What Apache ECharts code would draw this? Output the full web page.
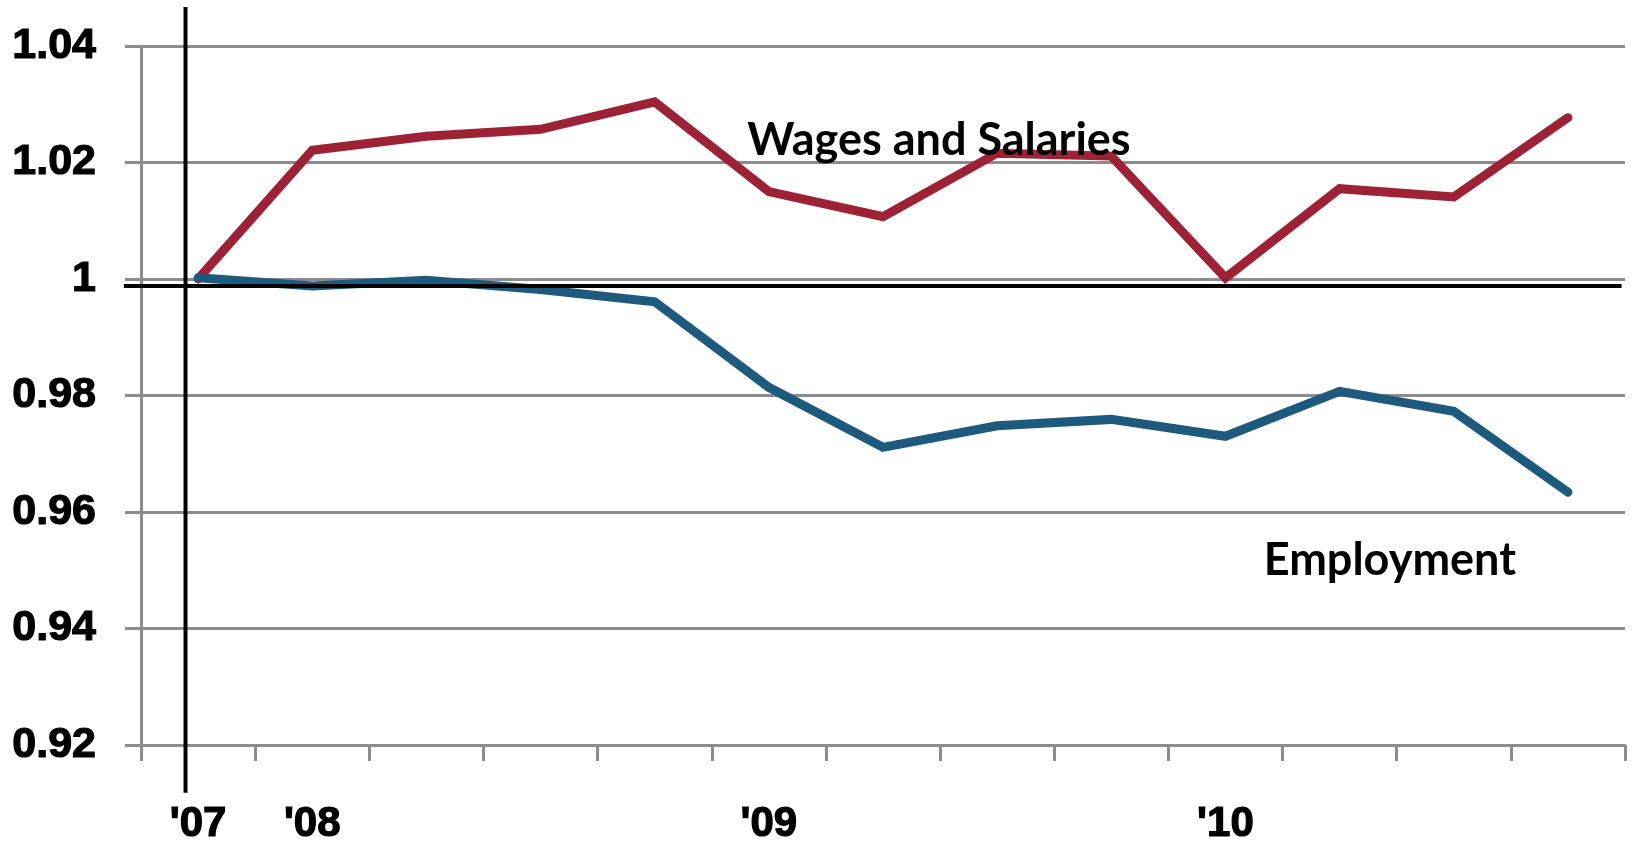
<!DOCTYPE html>
<html>
<head>
<meta charset="utf-8">
<script src="https://cdn.jsdelivr.net/npm/echarts@6/dist/echarts.min.js"></script>
<style>
html,body{margin:0;padding:0;background:#fff;}
#chart{width:1633px;height:851px;}
</style>
</head>
<body>
<div id="chart"></div>
<script>
// Quarters, 2007 Q4 through 2010 Q4
var categories = ["2007Q4","2008Q1","2008Q2","2008Q3","2008Q4","2009Q1","2009Q2","2009Q3","2009Q4","2010Q1","2010Q2","2010Q3","2010Q4"];
var xTickLabels = ["'07","'08","","","","'09","","","","'10","","",""];
var wagesAndSalaries = [1.0000, 1.0221, 1.0245, 1.0257, 1.0304, 1.0150, 1.0107, 1.0216, 1.0211, 1.0002, 1.0155, 1.0141, 1.0277];
var employment = [1.0002, 0.9988, 0.9998, 0.9982, 0.9961, 0.9814, 0.9711, 0.9748, 0.9759, 0.9730, 0.9807, 0.9773, 0.9634];
var yMin = 0.92, yMax = 1.04, yStep = 0.02;

var RED = '#9e2236', BLUE = '#1d5a7e', GRAY = '#8c8c8c';
var chart = echarts.init(document.getElementById('chart'));
var labelFont = 'Liberation Sans';
chart.setOption({
  animation: false,
  backgroundColor: '#fff',
  grid: {left: 141, right: 8, top: 46, bottom: 106, containLabel: false},
  xAxis: {
    type: 'category',
    data: categories,
    boundaryGap: true,
    axisLine: {lineStyle: {color: GRAY, width: 3}},
    axisTick: {show: true, length: 16, lineStyle: {color: GRAY, width: 3}, alignWithLabel: false, interval: 0},
    axisLabel: {
      interval: 0, margin: 58, color: '#000', fontFamily: labelFont, fontWeight: 'bold', fontSize: 42,
      textBorderColor: '#000', textBorderWidth: 1.2,
      formatter: function (v, i) { return xTickLabels[i]; }
    },
    splitLine: {show: false}
  },
  yAxis: {
    type: 'value',
    min: yMin, max: yMax, interval: yStep,
    axisLine: {show: true, lineStyle: {color: GRAY, width: 3}},
    axisTick: {show: true, length: 16, lineStyle: {color: GRAY, width: 3}},
    axisLabel: {
      margin: 45, color: '#000', fontFamily: labelFont, fontWeight: 'bold', fontSize: 43,
      textBorderColor: '#000', textBorderWidth: 1.2,
      formatter: function (v) { return String(parseFloat(v.toFixed(2))); }
    },
    splitLine: {show: true, lineStyle: {color: GRAY, width: 3}}
  },
  series: [
    {name: 'Wages and Salaries', type: 'line', data: wagesAndSalaries, showSymbol: false, z: 3,
     lineStyle: {color: RED, width: 9, cap: 'round', join: 'miter'}},
    {name: 'Employment', type: 'line', data: employment, showSymbol: false, z: 3,
     lineStyle: {color: BLUE, width: 9, cap: 'round', join: 'miter'}}
  ]
});

function px(xCat, yVal) {
  var a = chart.convertToPixel({gridIndex: 0}, [0, yVal]);
  var b = chart.convertToPixel({gridIndex: 0}, [1, yVal]);
  var band = b[0] - a[0];
  return [a[0] + xCat * band, a[1]];
}
var vTop = px(-0.11, 1.0467), vBot = px(-0.11, 0.9118);
var hL = px(-0.65, 0.9988), hR = px(12.47, 0.9988);
var wPos = px(6.49, 1.0238), ePos = px(10.44, 0.9517);
chart.setOption({
  graphic: [
    {type: 'line', z: 10, shape: {x1: vTop[0], y1: vTop[1], x2: vBot[0], y2: vBot[1]}, style: {stroke: '#000', lineWidth: 4}},
    {type: 'line', z: 10, shape: {x1: hL[0], y1: hL[1], x2: hR[0], y2: hR[1]}, style: {stroke: '#000', lineWidth: 4}},
    {type: 'text', z: 11, x: wPos[0], y: wPos[1], style: {text: 'Wages and Salaries', fill: '#000', font: 'bold 45px Lato', textAlign: 'center', textVerticalAlign: 'middle'}},
    {type: 'text', z: 11, x: ePos[0], y: ePos[1], style: {text: 'Employment', fill: '#000', font: 'bold 45px Lato', textAlign: 'center', textVerticalAlign: 'middle'}}
  ]
});
</script>
</body>
</html>
